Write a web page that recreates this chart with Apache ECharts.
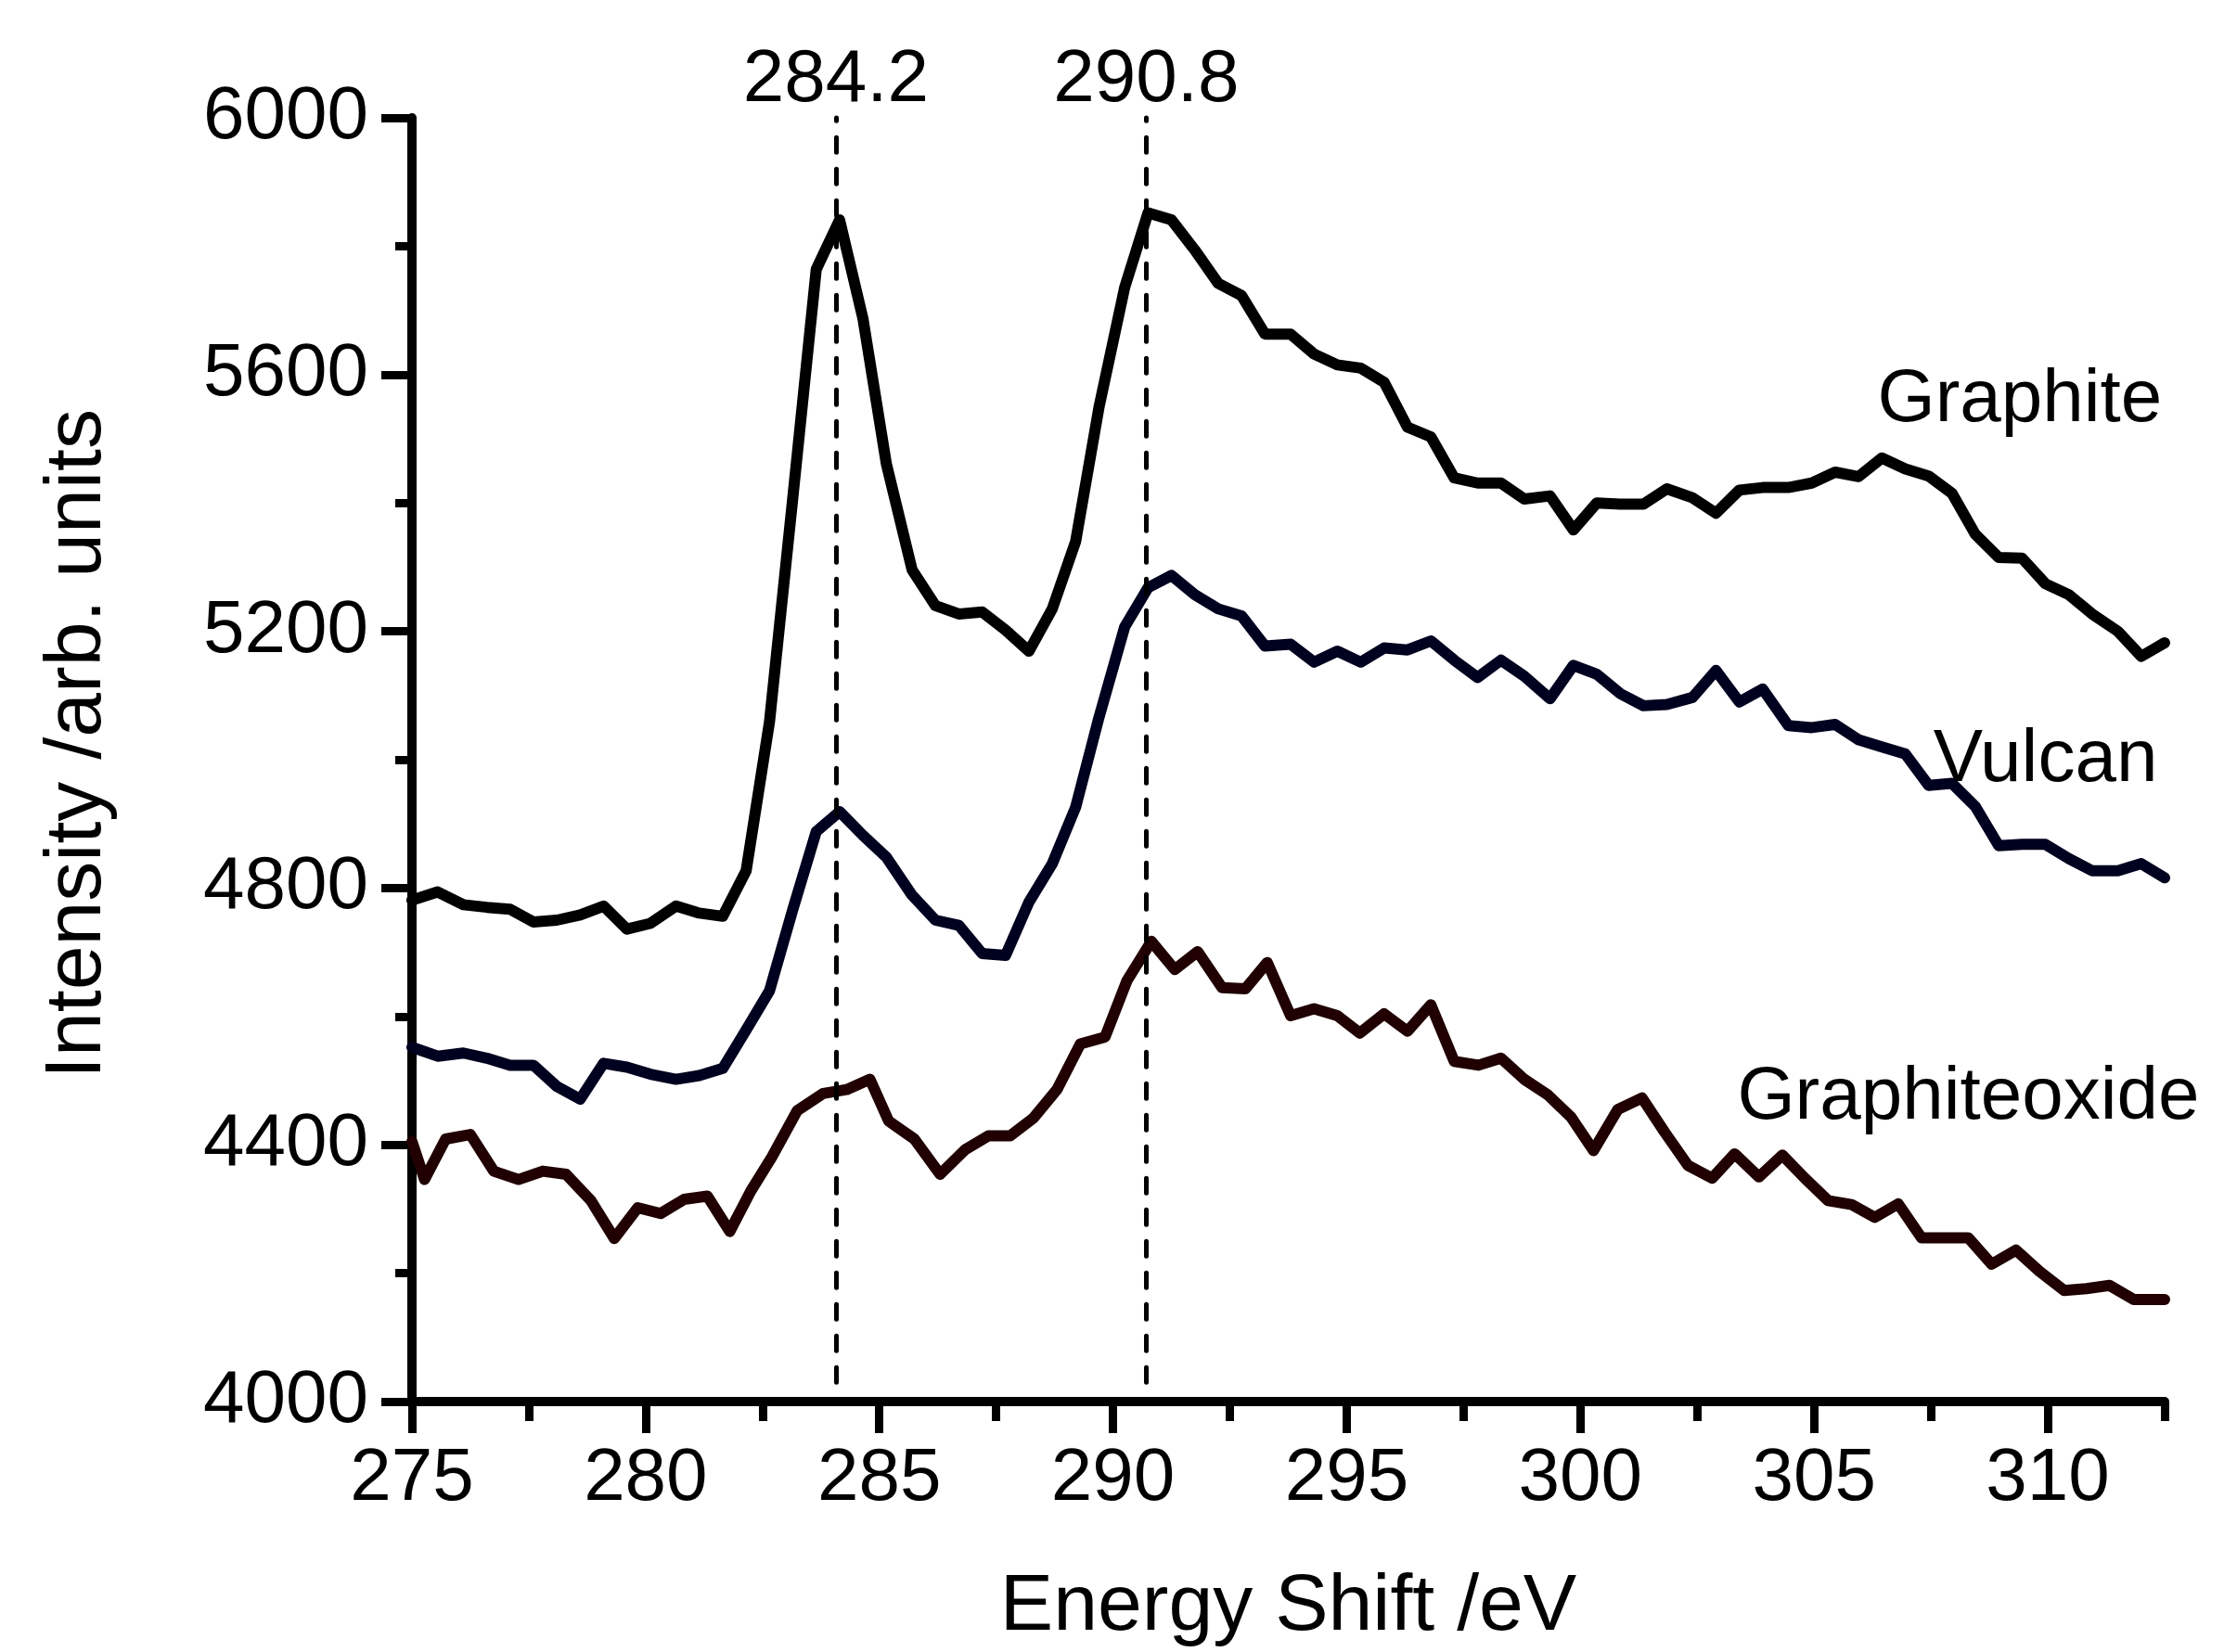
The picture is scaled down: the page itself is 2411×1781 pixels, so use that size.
<!DOCTYPE html>
<html>
<head>
<meta charset="utf-8">
<script src="https://cdn.jsdelivr.net/npm/echarts@6/dist/echarts.min.js"></script>
<style>
  html, body { margin: 0; padding: 0; background: #fff; }
  #xasChart { width: 2411px; height: 1781px; }
</style>
</head>
<body>
<div id="xasChart"></div>
<script>
// energy grid shared by Graphite and Vulcan (eV)
var energy = [275.0, 275.55, 276.1, 276.6, 277.1, 277.6, 278.1, 278.6, 279.1, 279.6,
  280.1, 280.65, 281.15, 281.65, 282.15, 282.65, 283.15, 283.65, 284.15, 284.65,
  285.15, 285.7, 286.2, 286.7, 287.2, 287.7, 288.2, 288.7, 289.2, 289.7,
  290.25, 290.75, 291.25, 291.75, 292.25, 292.75, 293.25, 293.8, 294.3, 294.8,
  295.3, 295.8, 296.3, 296.8, 297.3, 297.8, 298.3, 298.8, 299.35, 299.85,
  300.35, 300.85, 301.35, 301.85, 302.4, 302.9, 303.4, 303.9, 304.45, 304.95,
  305.45, 305.95, 306.45, 306.95, 307.45, 307.95, 308.45, 308.95, 309.45, 309.95,
  310.45, 310.95, 311.5, 312.0, 312.5];

var graphite = [4781, 4794, 4774, 4770, 4767, 4747, 4750, 4758, 4772, 4736,
  4745, 4772, 4761, 4756, 4827, 5059, 5409, 5764, 5841, 5687,
  5461, 5296, 5240, 5227, 5230, 5202, 5169, 5235, 5340, 5549,
  5736, 5852, 5841, 5794, 5742, 5723, 5663, 5663, 5632, 5615,
  5610, 5588, 5518, 5503, 5439, 5431, 5431, 5406, 5411, 5358,
  5400, 5398, 5398, 5422, 5408, 5384, 5420, 5424, 5424, 5431,
  5448, 5441, 5470, 5453, 5442, 5415, 5351, 5315, 5314, 5274,
  5257, 5227, 5200, 5161, 5182];

var vulcan = [4552, 4538, 4543, 4535, 4524, 4524, 4491, 4471, 4527, 4521,
  4510, 4502, 4508, 4519, 4579, 4640, 4767, 4888, 4919, 4882,
  4848, 4789, 4750, 4742, 4698, 4695, 4778, 4838, 4926, 5066,
  5207, 5268, 5287, 5257, 5235, 5224, 5177, 5180, 5152, 5169,
  5152, 5174, 5171, 5185, 5155, 5128, 5155, 5130, 5095, 5147,
  5133, 5103, 5084, 5086, 5097, 5139, 5090, 5110, 5053, 5050,
  5055, 5031, 5020, 5009, 4960, 4963, 4927, 4866, 4868, 4868,
  4846, 4827, 4827, 4838, 4816];

// graphite oxide is sampled on its own grid
var energyOxide = [275.0, 275.27, 275.72, 276.25, 276.75, 277.28, 277.8, 278.3, 278.83, 279.33,
  279.83, 280.32, 280.82, 281.32, 281.8, 282.25, 282.7, 283.24, 283.8, 284.3,
  284.8, 285.2, 285.75, 286.3, 286.83, 287.33, 287.8, 288.3, 288.8, 289.3,
  289.83, 290.3, 290.82, 291.32, 291.81, 292.33, 292.83, 293.3, 293.8, 294.3,
  294.8, 295.28, 295.8, 296.3, 296.8, 297.3, 297.82, 298.3, 298.8, 299.3,
  299.8, 300.28, 300.8, 301.32, 301.8, 302.3, 302.82, 303.3, 303.82, 304.32,
  304.8, 305.3, 305.8, 306.3, 306.8, 307.3, 307.8, 308.3, 308.8, 309.32,
  309.82, 310.35, 310.83, 311.32, 311.84, 312.5];

var graphiteOxide = [4405, 4346, 4409, 4416, 4359, 4346, 4359, 4354, 4313, 4254,
  4302, 4293, 4315, 4320, 4265, 4328, 4381, 4453, 4480, 4486,
  4502, 4437, 4409, 4354, 4392, 4414, 4414, 4442, 4486, 4557,
  4568, 4656, 4717, 4673, 4701, 4645, 4643, 4684, 4601, 4612,
  4601, 4574, 4604, 4577, 4618, 4530, 4524, 4535, 4502, 4478,
  4443, 4391, 4455, 4473, 4420, 4368, 4348, 4386, 4350, 4384,
  4348, 4313, 4307, 4287, 4308, 4255, 4255, 4255, 4214, 4236,
  4203, 4173, 4176, 4181, 4159, 4159];

// peak markers: where the dashed lines sit, and the text written above them
var peakEnergies = [284.07, 290.71];
var peakLabels = ['284.2', '290.8'];

// axis ticks
var xMajorTicks = [275, 280, 285, 290, 295, 300, 305, 310];
var xMinorTicks = [277.5, 282.5, 287.5, 292.5, 297.5, 302.5, 307.5, 312.5];
var yTicks = [4000, 4400, 4800, 5200, 5600, 6000];

var FONT = 'Liberation Sans, Arial, Helvetica, sans-serif';

function pairs(xs, ys) {
    var out = [];
    for (var i = 0; i < ys.length; i++) {
        out.push([xs[i], ys[i]]);
    }
    return out;
}

// label drawn at a point given in data units
function nameLabel(text, coord) {
    return {
        silent: true,
        symbol: 'circle',
        symbolSize: 1,
        itemStyle: {color: 'rgba(0,0,0,0)'},
        label: {
            show: true,
            position: 'inside',
            formatter: '{b}',
            color: '#000',
            fontFamily: FONT,
            fontSize: 80
        },
        data: [{name: text, coord: coord}]
    };
}

var peakLines = [];
for (var i = 0; i < peakEnergies.length; i++) {
    peakLines.push([
        {coord: [peakEnergies[i], 4030]},
        {coord: [peakEnergies[i], yTicks[yTicks.length - 1]], name: peakLabels[i]}
    ]);
}

var myChart = echarts.init(document.getElementById('xasChart'), null, {renderer: 'canvas'});

var option = {
    animation: false,
    backgroundColor: '#ffffff',
    grid: {
        left: 444,
        right: 78,
        top: 127,
        bottom: 265,
        containLabel: false
    },
    xAxis: [
        {
            type: 'value',
            min: xMajorTicks[0],
            max: 312.5,
            interval: 5,
            name: 'Energy Shift /eV',
            nameLocation: 'middle',
            nameGap: 179,
            nameTextStyle: {color: '#000', fontFamily: FONT, fontSize: 86},
            axisLine: {lineStyle: {color: '#000', width: 10}},
            axisTick: {customValues: xMajorTicks, length: 34, lineStyle: {color: '#000', width: 9}},
            axisLabel: {
                customValues: xMajorTicks,
                margin: 44,
                color: '#000',
                fontFamily: FONT,
                fontSize: 80,
                formatter: function (v) { return v % 5 === 0 ? String(v) : ''; }
            },
            splitLine: {show: false}
        },
        {
            // second bottom axis only carries the short half-step ticks
            type: 'value',
            position: 'bottom',
            min: xMajorTicks[0],
            max: 312.5,
            interval: 2.5,
            axisLine: {show: false},
            axisTick: {customValues: xMinorTicks, length: 21, lineStyle: {color: '#000', width: 9}},
            axisLabel: {show: false},
            splitLine: {show: false}
        }
    ],
    yAxis: {
        type: 'value',
        min: yTicks[0],
        max: yTicks[yTicks.length - 1],
        interval: 400,
        name: 'Intensity /arb. units',
        nameLocation: 'middle',
        nameGap: 317,
        nameTextStyle: {color: '#000', fontFamily: FONT, fontSize: 86, padding: [0, 0, 0, 34]},
        axisLine: {lineStyle: {color: '#000', width: 10}},
        axisTick: {length: 33, lineStyle: {color: '#000', width: 9}},
        minorTick: {show: true, splitNumber: 2, length: 18, lineStyle: {color: '#000', width: 9}},
        axisLabel: {
            margin: 47,
            color: '#000',
            fontFamily: FONT,
            fontSize: 80,
            formatter: function (v) { return String(v); }
        },
        splitLine: {show: false}
    },
    series: [
        {
            name: 'Graphite',
            type: 'line',
            data: pairs(energy, graphite),
            showSymbol: false,
            lineStyle: {color: '#000000', width: 12, join: 'round', cap: 'round'},
            itemStyle: {color: '#000000'},
            markLine: {
                silent: true,
                symbol: 'none',
                lineStyle: {color: '#000', width: 5, type: [16, 18], cap: 'round'},
                label: {
                    show: true,
                    position: 'end',
                    distance: 0,
                    formatter: '{b}',
                    color: '#000',
                    fontFamily: FONT,
                    fontSize: 80
                },
                data: peakLines
            },
            markPoint: nameLabel('Graphite', [309.4, 5560])
        },
        {
            name: 'Vulcan',
            type: 'line',
            data: pairs(energy, vulcan),
            showSymbol: false,
            lineStyle: {color: '#00001f', width: 12, join: 'round', cap: 'round'},
            itemStyle: {color: '#00001f'},
            markPoint: nameLabel('Vulcan', [309.95, 4999])
        },
        {
            name: 'Graphiteoxide',
            type: 'line',
            data: pairs(energyOxide, graphiteOxide),
            showSymbol: false,
            lineStyle: {color: '#200000', width: 12, join: 'round', cap: 'round'},
            itemStyle: {color: '#200000'},
            markPoint: nameLabel('Graphiteoxide', [308.3, 4473])
        }
    ]
};

myChart.setOption(option);
</script>
</body>
</html>
